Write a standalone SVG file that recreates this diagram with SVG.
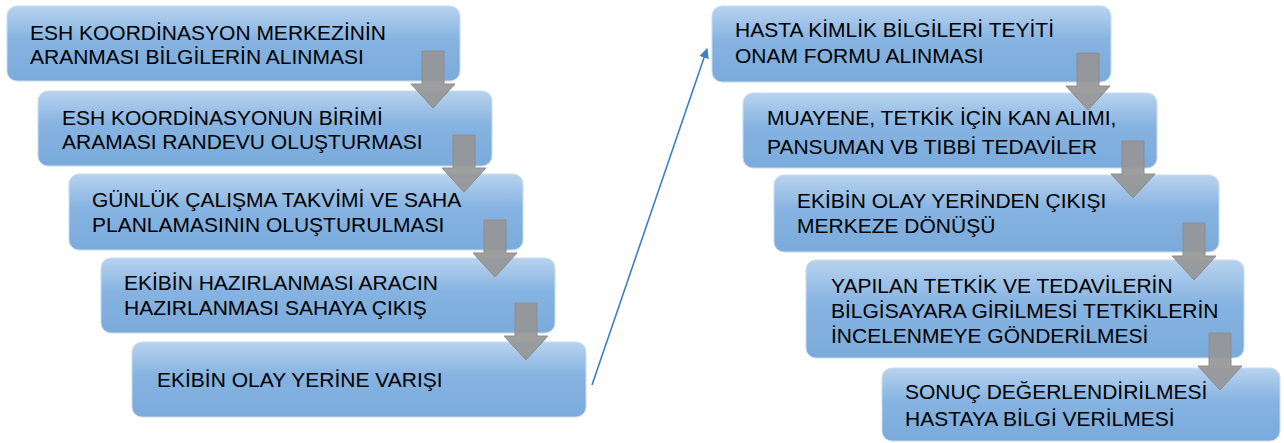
<svg xmlns="http://www.w3.org/2000/svg" width="1284" height="443" viewBox="0 0 1284 443">
<defs>
<linearGradient id="g" x1="0" y1="0" x2="0" y2="1">
<stop offset="0" stop-color="#b8d3ef"/>
<stop offset="0.45" stop-color="#86b3e1"/>
<stop offset="1" stop-color="#7aabdc"/>
</linearGradient>
<marker id="ah" viewBox="0 0 10 10" refX="9" refY="5" markerWidth="10" markerHeight="10" markerUnits="userSpaceOnUse" orient="auto">
<path d="M0,0 L10,5 L0,10 Z" fill="#3f7fc0"/>
</marker>
<path id="dn" d="M-11,0 H11 V33 H22 L0,57 L-22,33 H-11 Z"/>
</defs>
<style>
.box{fill:url(#g);stroke:#c9dcf0;stroke-width:1}
.t{font-family:"Liberation Sans",Arial,sans-serif;font-size:21px;fill:#000}
.ga{fill:#969696;fill-opacity:0.92;stroke:#8c8c8c;stroke-width:1}
</style>
<rect width="1284" height="443" fill="#fff"/>
<g id="n1"><rect class="box" x="7" y="6" width="453" height="75" rx="10"/>
<text class="t" x="30" y="39.5">ESH KOORDİNASYON MERKEZİNİN</text><text class="t" x="30" y="64">ARANMASI BİLGİLERİN ALINMASI</text></g>
<g id="n2"><rect class="box" x="38" y="91" width="454" height="75" rx="10"/>
<text class="t" x="62" y="125">ESH KOORDİNASYONUN BİRİMİ</text><text class="t" x="62" y="148.5">ARAMASI RANDEVU OLUŞTURMASI</text></g>
<g id="n3"><rect class="box" x="69" y="174" width="454" height="76" rx="10"/>
<text class="t" x="92" y="207">GÜNLÜK ÇALIŞMA TAKVİMİ VE SAHA</text><text class="t" x="92" y="232">PLANLAMASININ OLUŞTURULMASI</text></g>
<g id="n4"><rect class="box" x="101" y="258" width="454" height="75" rx="10"/>
<text class="t" x="124" y="290">EKİBİN HAZIRLANMASI ARACIN</text><text class="t" x="124" y="315">HAZIRLANMASI SAHAYA ÇIKIŞ</text></g>
<g id="n5"><rect class="box" x="132" y="342" width="454" height="75" rx="10"/>
<text class="t" x="157" y="387">EKİBİN OLAY YERİNE VARIŞI</text></g>
<g id="n6"><rect class="box" x="712" y="6" width="399" height="76" rx="10"/>
<text class="t" x="735" y="37">HASTA KİMLİK BİLGİLERİ TEYİTİ</text><text class="t" x="735" y="62.5">ONAM FORMU ALINMASI</text></g>
<g id="n7"><rect class="box" x="743" y="93" width="414" height="75" rx="10"/>
<text class="t" x="767" y="125">MUAYENE, TETKİK İÇİN KAN ALIMI,</text><text class="t" x="767" y="153.5">PANSUMAN VB TIBBİ TEDAVİLER</text></g>
<g id="n8"><rect class="box" x="774" y="175" width="445" height="77" rx="10"/>
<text class="t" x="797" y="208">EKİBİN OLAY YERİNDEN ÇIKIŞI</text><text class="t" x="797" y="233">MERKEZE DÖNÜŞÜ</text></g>
<g id="n9"><rect class="box" x="806" y="260" width="438" height="98" rx="10"/>
<text class="t" x="831" y="293">YAPILAN TETKİK VE TEDAVİLERİN</text><text class="t" x="831" y="318">BİLGİSAYARA GİRİLMESİ TETKİKLERİN</text><text class="t" x="831" y="343">İNCELENMEYE GÖNDERİLMESİ</text></g>
<g id="n10"><rect class="box" x="882" y="368" width="398" height="73" rx="10"/>
<text class="t" x="905" y="399">SONUÇ DEĞERLENDİRİLMESİ</text><text class="t" x="905" y="426">HASTAYA BİLGİ VERİLMESİ</text></g>
<g id="connectors">
<use href="#dn" class="ga" x="433" y="51"/>
<use href="#dn" class="ga" x="464" y="135"/>
<use href="#dn" class="ga" x="495" y="220"/>
<use href="#dn" class="ga" x="526" y="303"/>
<use href="#dn" class="ga" x="1088" y="53"/>
<use href="#dn" class="ga" x="1133" y="141"/>
<use href="#dn" class="ga" x="1194" y="223"/>
<use href="#dn" class="ga" x="1220" y="333"/>
<line x1="592" y1="385" x2="707" y2="49" stroke="#3f7fc0" stroke-width="1.6" marker-end="url(#ah)"/>
</g>
</svg>
